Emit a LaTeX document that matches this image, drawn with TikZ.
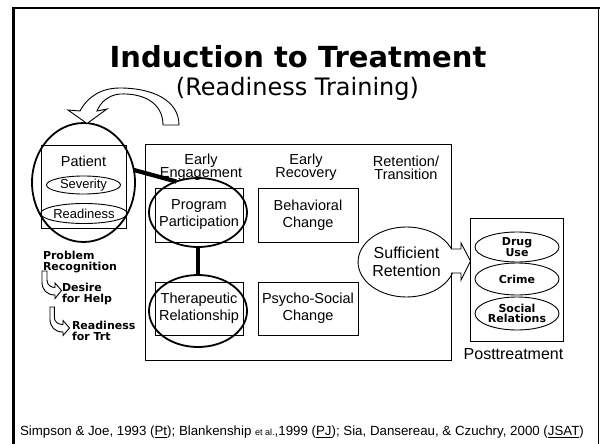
\documentclass[tikz,border=0pt]{standalone}
\usepackage{fontspec}
\setmainfont{Liberation Sans}
\newfontfamily\vfont{DejaVu Sans}
\usetikzlibrary{shapes.geometric}
\tikzset{
  every node/.style={inner sep=0pt, outer sep=0pt},
  rbox/.style={draw, line width=0.9pt, align=center, font=\fontsize{14.5}{17}\selectfont},
  oval/.style={ellipse, draw, line width=0.9pt},
  bigoval/.style={ellipse, draw, line width=1.8pt},
  hdr/.style={align=center, font=\fontsize{14.5}{13.2}\selectfont},
  blab/.style={align=left, font=\vfont\bfseries\fontsize{11}{10.5}\selectfont},
  bcen/.style={align=center, font=\vfont\bfseries\fontsize{11}{10.5}\selectfont},
  blockarrow/.style={draw, line width=0.9pt, fill=white, line join=miter},
  thickline/.style={line width=4.2pt}
}
\begin{document}
\begin{tikzpicture}[x=1pt,y=-1pt]
\useasboundingbox (0,0) rectangle (602,444);
% slide frame
\draw[line width=2.8pt] (13.5,444) -- (13.5,7);
\draw[line width=2.2pt] (12.1,8) -- (599.5,8);
\draw[line width=1.8pt] (598.5,7) -- (598.5,444);
% titles
\node (title) at (298,56.5) {\vfont\bfseries\fontsize{29}{29}\selectfont Induction to Treatment};
\node[anchor=base] (subtitle) at (297.5,95) {\vfont\fontsize{24}{24}\selectfont (Readiness Training)};
% patient
\node[draw, line width=0.9pt, minimum width=85pt, minimum height=83pt] (patbox) at (83.5,186.5) {};
\node[anchor=base, font=\fontsize{14.5}{17}\selectfont] (patlab) at (83.5,166) {Patient};
\node[oval, minimum width=74pt, minimum height=18pt, font=\fontsize{13}{15}\selectfont] (sev) at (83.5,185) {Severity};
\node[oval, minimum width=75pt, minimum height=20pt, font=\fontsize{13}{15}\selectfont] (rdy) at (84,213.5) {Readiness};
\node[bigoval, minimum width=103pt, minimum height=119pt] (patC) at (83.5,182.5) {};
% curved block arrow above patient
\draw[blockarrow] (179,125) -- (163,125) .. controls (163,102) and (142,93) .. (120,94)
  .. controls (108,95) and (100,103) .. (97,111) -- (107,109) -- (87,123.5) -- (68,110) -- (80,111)
  .. controls (88,96) and (102,88) .. (120,88) .. controls (152,88) and (179,100) .. (179,125) -- cycle;
% stages of readiness
\node[blab, anchor=north west] (prob) at (43,251.6) {Problem\\Recognition};
\node[blab, anchor=north west] (desire) at (62,283.6) {Desire\\for Help};
\node[blab, anchor=north west] (rtrt) at (72,321.6) {Readiness\\for Trt};
\draw[blockarrow] (42,271) -- (42,282) .. controls (42,290) and (47,295) .. (55,295) -- (55,298.5) -- (61.5,290.5) -- (55,283) -- (55,287.5)
  .. controls (51,287.5) and (47,285) .. (47,280) -- (47,271) -- cycle;
\draw[blockarrow] (50,307) -- (50,319) .. controls (50,327) and (55,332) .. (63,332) -- (63,335.5) -- (69.5,328) -- (63,320.5) -- (63,324.5)
  .. controls (58,324.5) and (54.3,322) .. (54.3,317) -- (54.3,307) -- cycle;
% main box
\node[draw, line width=0.9pt, minimum width=306pt, minimum height=216pt] (main) at (298,252) {};
\node[hdr] (h1) at (201,167.5) {Early\\Engagement};
\node[hdr] (h2) at (306,167.5) {Early\\Recovery};
\node[hdr] (h3) at (406,167.5) {Retention/\\Transition};
\node[rbox, minimum width=88pt, minimum height=54pt] (prog) at (199,215) {Program\\Participation};
\node[rbox, minimum width=88pt, minimum height=53pt] (ther) at (199,308.5) {Therapeutic\\Relationship};
\node[rbox, minimum width=100pt, minimum height=54pt] (beh) at (308,215) {Behavioral\\Change};
\node[rbox, minimum width=100pt, minimum height=53pt] (psy) at (308,308.5) {Psycho-Social\\Change};
\node[bigoval, minimum width=98pt, minimum height=69pt] (progE) at (198,212.5) {};
\node[bigoval, minimum width=98pt, minimum height=72pt] (therE) at (198,311) {};
\node[oval, minimum width=89pt, minimum height=70pt, align=center, font=\fontsize{16}{17.5}\selectfont] (suff) at (406.5,262) {Sufficient\\Retention};
% connectors
\draw[thickline] (patC.14) -- (progE.125);
\draw[thickline] (progE.south) -- (therE.north);
% right block arrow
\draw[blockarrow] (451,249) -- (461,249) -- (461,243) -- (470.5,261) -- (461,280) -- (461,273) -- (451,273);
% posttreatment
\node[draw, line width=0.9pt, minimum width=93pt, minimum height=123pt] (post) at (516.5,279.5) {};
\node[oval, bcen, minimum width=84pt, minimum height=30pt] (drug) at (517,247) {Drug\\Use};
\node[oval, bcen, minimum width=84pt, minimum height=32pt] (crime) at (517,279) {Crime};
\node[oval, bcen, minimum width=84pt, minimum height=33pt] (soc) at (517,313.5) {Social\\Relations};
\node[font=\fontsize{16}{17}\selectfont] (postlab) at (513.5,354) {Posttreatment};
% footer
\node (foot) at (302,432) {\fontsize{13.3}{14}\selectfont Simpson \& Joe, 1993 (\underline{Pt}); Blankenship {\fontsize{9}{10}\selectfont et al.},1999 (\underline{PJ}); Sia, Dansereau, \& Czuchry, 2000 (\underline{JSAT})};
\end{tikzpicture}
\end{document}
